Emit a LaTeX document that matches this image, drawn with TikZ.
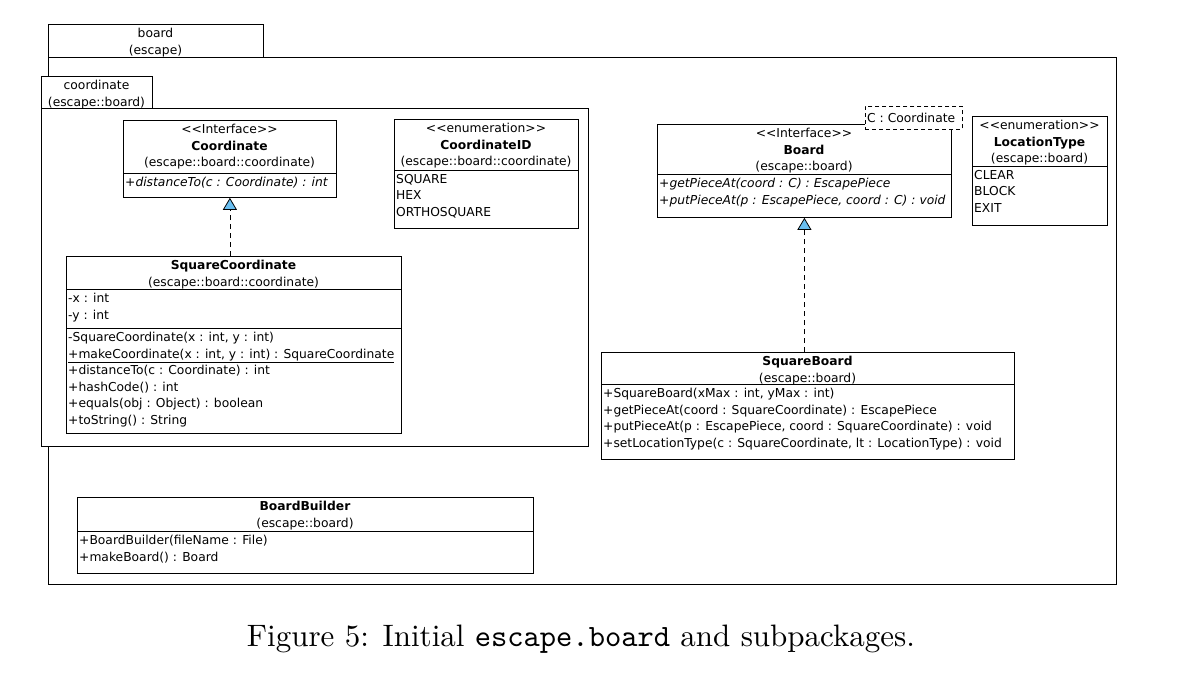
\documentclass[tikz,border=0pt]{standalone}
\usepackage{fontspec}
\usetikzlibrary{arrows.meta}
\newfontfamily\umlsans{DejaVu Sans}
\newfontfamily\capfont{lmroman10-regular}[Extension=.otf]
\newfontfamily\captt{lmmono10-regular}[Extension=.otf]
\newcommand\umlfont{\umlsans\fontsize{12.3}{16.5}\selectfont}
\newcommand\stereo[1]{<\kern0pt<#1>\kern0pt>}
\definecolor{IfaceClr}{RGB}{105,190,240}

\begin{document}
\begin{tikzpicture}[x=1pt,y=-1pt,
  pkg/.style={draw,line width=0.9pt,fill=white,anchor=north west,inner sep=0pt},
  umlbox/.style={draw,line width=0.8pt,fill=white,anchor=north west,inner sep=0pt},
  hdr/.style={anchor=north,inner sep=0pt,font=\umlfont,align=center},
  mem/.style={anchor=north west,inner sep=0pt,font=\umlfont,align=left},
  realize/.style={line width=0.8pt,dash pattern=on 5pt off 4pt,-{Triangle[width=14pt,length=12pt,fill=IfaceClr]}}]

\useasboundingbox (0,0) rectangle (1180,678);

% packages
\node[pkg,minimum width=1068pt,minimum height=527pt] (boardpkg) at (48,57) {};
\node[pkg,minimum width=215pt,minimum height=33pt] (boardtab) at (48,24) {};
\node[hdr] (boardname) at (155.5,28) {board\\(escape)};

\node[pkg,minimum width=547pt,minimum height=338pt] (coordpkg) at (41,108) {};
\node[pkg,minimum width=111pt,minimum height=32pt] (coordtab) at (41,76) {};
\node[hdr] (coordname) at (96.5,80) {coordinate\\(escape::board)};

% coordinate package
\node[umlbox,minimum width=213pt,minimum height=77pt] (coordif) at (123,120) {};
\draw[line width=0.8pt] (coordif.west |- 0,173) -- (coordif.east |- 0,173);
\node[hdr] (coordifhdr) at (229.5,124) {\stereo{Interface}\\\textbf{Coordinate}\\(escape::board::coordinate)};
\node[mem] (coordifops) at (125,177) {\textit{+distanceTo(c : Coordinate) : int}};

\node[umlbox,minimum width=184pt,minimum height=109pt] (coordid) at (394,119) {};
\draw[line width=0.8pt] (coordid.west |- 0,170) -- (coordid.east |- 0,170);
\node[hdr] (coordidhdr) at (486,123) {\stereo{enumeration}\\\textbf{CoordinateID}\\(escape::board::coordinate)};
\node[mem] (coordidvals) at (396,174) {SQUARE\\HEX\\ORTHOSQUARE};

\node[umlbox,minimum width=335pt,minimum height=177pt] (sqcoord) at (66,256) {};
\draw[line width=0.8pt] (sqcoord.west |- 0,289) -- (sqcoord.east |- 0,289);
\draw[line width=0.8pt] (sqcoord.west |- 0,328) -- (sqcoord.east |- 0,328);
\node[hdr] (sqcoordhdr) at (233.5,260) {\textbf{SquareCoordinate}\\(escape::board::coordinate)};
\node[mem] (sqcoordattr) at (68,293) {-x : int\\-y : int};
\node[mem] (sqcoordops) at (68,332) {-SquareCoordinate(x : int, y : int)\\
  \underline{+makeCoordinate(x : int, y : int) : SquareCoordinate}\\
  +distanceTo(c : Coordinate) : int\\+hashCode() : int\\
  +equals(obj : Object) : boolean\\+toString() : String};

\draw[realize] (sqcoord.north -| coordif.south) -- (coordif.south);

% board package
\node[umlbox,minimum width=294pt,minimum height=93pt] (board) at (657,124) {};
\draw[line width=0.8pt] (board.west |- 0,174) -- (board.east |- 0,174);
\node[umlbox,dashed,dash pattern=on 4pt off 3pt,minimum width=97pt,minimum height=23pt] (tparam) at (865,106) {};
\node[mem,anchor=west] (tparamtxt) at (867,117.5) {C : Coordinate};
\node[hdr] (boardhdr) at (804,128) {\stereo{Interface}\\\textbf{Board}\\(escape::board)};
\node[mem] (boardops) at (659,178) {\textit{+getPieceAt(coord : C) : EscapePiece}\\
  \textit{+putPieceAt(p : EscapePiece, coord : C) : void}};

\node[umlbox,minimum width=135pt,minimum height=109pt] (loctype) at (972,116) {};
\draw[line width=0.8pt] (loctype.west |- 0,166) -- (loctype.east |- 0,166);
\node[hdr] (loctypehdr) at (1039.5,120) {\stereo{enumeration}\\\textbf{LocationType}\\(escape::board)};
\node[mem] (loctypevals) at (974,170) {CLEAR\\BLOCK\\EXIT};

\node[umlbox,minimum width=413pt,minimum height=107pt] (sqboard) at (601,352) {};
\draw[line width=0.8pt] (sqboard.west |- 0,384) -- (sqboard.east |- 0,384);
\node[hdr] (sqboardhdr) at (807.5,356) {\textbf{SquareBoard}\\(escape::board)};
\node[mem] (sqboardops) at (603,388) {+SquareBoard(xMax : int, yMax : int)\\
  +getPieceAt(coord : SquareCoordinate) : EscapePiece\\
  +putPieceAt(p : EscapePiece, coord : SquareCoordinate) : void\\
  +setLocationType(c : SquareCoordinate, lt : LocationType) : void};

\draw[realize] (sqboard.north -| board.south) -- (board.south);

\node[umlbox,minimum width=456pt,minimum height=76pt] (builder) at (77,497) {};
\draw[line width=0.8pt] (builder.west |- 0,531) -- (builder.east |- 0,531);
\node[hdr] (builderhdr) at (305,501) {\textbf{BoardBuilder}\\(escape::board)};
\node[mem] (builderops) at (79,535) {+BoardBuilder(fileName : File)\\+makeBoard() : Board};

% caption
\node[inner sep=0pt,font=\capfont\fontsize{31}{36}\selectfont] (caption) at (581,639) {Figure 5: Initial {\captt escape.board} and subpackages.};
\end{tikzpicture}
\end{document}
